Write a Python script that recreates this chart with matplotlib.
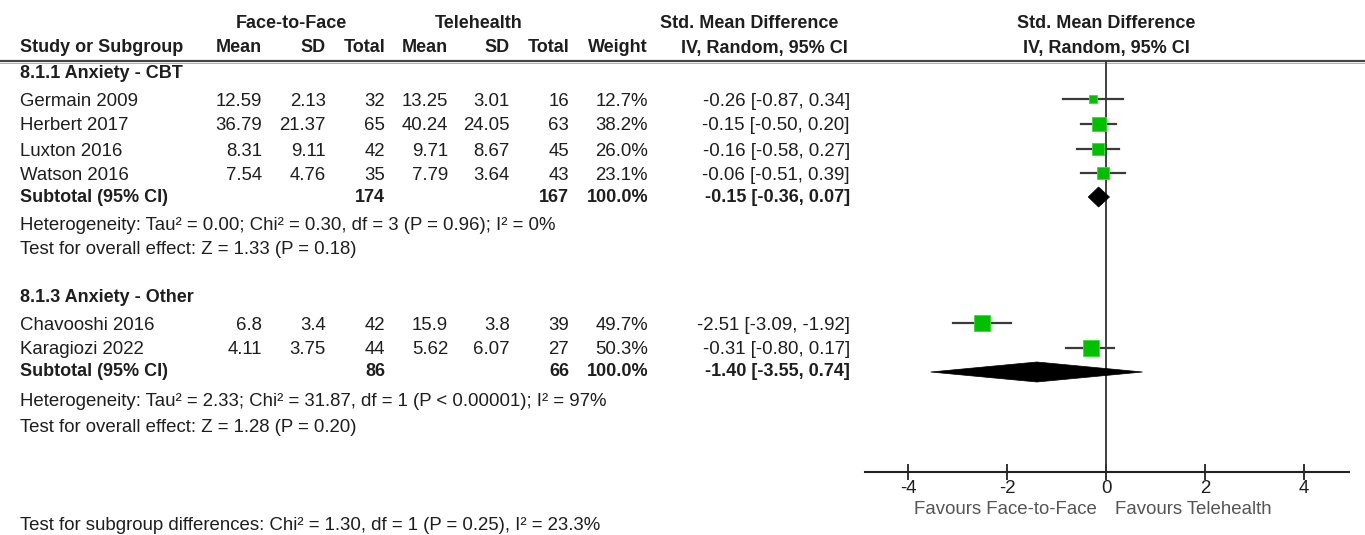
import numpy as np
import matplotlib
matplotlib.use("Agg")
import matplotlib.pyplot as plt
from matplotlib.patches import Polygon

plt.rcParams['font.family'] = ['Liberation Sans', 'DejaVu Sans']

# study level data
groups = ["8.1.1 Anxiety - CBT", "8.1.3 Anxiety - Other"]
studies = [["Germain 2009", "Herbert 2017", "Luxton 2016", "Watson 2016"],
           ["Chavooshi 2016", "Karagiozi 2022"]]
f2f_mean = [[12.59, 36.79, 8.31, 7.54], [6.8, 4.11]]
f2f_sd = [[2.13, 21.37, 9.11, 4.76], [3.4, 3.75]]
f2f_n = [[32, 65, 42, 35], [42, 44]]
th_mean = [[13.25, 40.24, 9.71, 7.79], [15.9, 5.62]]
th_sd = [[3.01, 24.05, 8.67, 3.64], [3.8, 6.07]]
th_n = [[16, 63, 45, 43], [39, 27]]
weight = [[12.7, 38.2, 26.0, 23.1], [49.7, 50.3]]
smd = [[-0.26, -0.15, -0.16, -0.06], [-2.51, -0.31]]
ci_lo = [[-0.87, -0.50, -0.58, -0.51], [-3.09, -0.80]]
ci_hi = [[0.34, 0.20, 0.27, 0.39], [-1.92, 0.17]]

# subgroup pooled results
sub_f2f_n = [174, 86]
sub_th_n = [167, 66]
sub_smd = [-0.15, -1.40]
sub_lo = [-0.36, -3.55]
sub_hi = [0.07, 0.74]
heterogeneity = ["Heterogeneity: Tau\u00b2 = 0.00; Chi\u00b2 = 0.30, df = 3 (P = 0.96); I\u00b2 = 0%",
                 "Heterogeneity: Tau\u00b2 = 2.33; Chi\u00b2 = 31.87, df = 1 (P < 0.00001); I\u00b2 = 97%"]
overall_effect = ["Test for overall effect: Z = 1.33 (P = 0.18)",
                  "Test for overall effect: Z = 1.28 (P = 0.20)"]
subgroup_test = "Test for subgroup differences: Chi\u00b2 = 1.30, df = 1 (P = 0.25), I\u00b2 = 23.3%"
x_ticks = [-4, -2, 0, 2, 4]

# row positions (pixels from top)
group_y = [74, 298]
study_y = [[101, 126, 151, 175], [325, 350]]
sub_y = [197, 372]
het_y = [226, 402]
oe_y = [250, 427]

W, H = 1365, 535
fig = plt.figure(figsize=(W / 100, H / 100), dpi=100)
tx = fig.add_axes([0, 0, 1, 1])
tx.set_xlim(0, W)
tx.set_ylim(H, 0)
tx.axis('off')

TC = '#1e1e1e'
FS = 13.4
FSB = 13
col_right = [262, 326, 385, 448, 510, 569, 648]
ci_right = 850


def txt(x, y, s, ha='left', bold=False, color=TC):
    tx.text(x, y, s, ha=ha, va='center', fontsize=FSB if bold else FS, color=color,
            fontweight='bold' if bold else 'normal')


# header
txt(291, 23, "Face-to-Face", ha='center', bold=True)
txt(479, 23, "Telehealth", ha='center', bold=True)
txt(749, 23, "Std. Mean Difference", ha='center', bold=True)
txt(1106, 23, "Std. Mean Difference", ha='center', bold=True)
txt(20, 48, "Study or Subgroup", bold=True)
for x, s in zip(col_right, ["Mean", "SD", "Total", "Mean", "SD", "Total", "Weight"]):
    txt(x, 48, s, ha='right', bold=True)
txt(848, 48, "IV, Random, 95% CI", ha='right', bold=True)
txt(1106, 48, "IV, Random, 95% CI", ha='center', bold=True)
tx.plot([0, W], [60.5, 60.5], color='#444444', lw=1.6)
tx.plot([0, W], [62.5, 62.5], color='#b0b0b0', lw=0.7)

for g in range(len(groups)):
    txt(20, group_y[g], groups[g], bold=True)
    for i, name in enumerate(studies[g]):
        y = study_y[g][i]
        vals = [f2f_mean[g][i], f2f_sd[g][i], f2f_n[g][i], th_mean[g][i],
                th_sd[g][i], th_n[g][i], "%.1f%%" % weight[g][i]]
        txt(20, y, name)
        for x, v in zip(col_right, vals):
            txt(x, y, str(v), ha='right')
        txt(ci_right, y, "%.2f [%.2f, %.2f]" % (smd[g][i], ci_lo[g][i], ci_hi[g][i]), ha='right')
    y = sub_y[g]
    txt(20, y, "Subtotal (95% CI)", bold=True)
    txt(col_right[2], y, str(sub_f2f_n[g]), ha='right', bold=True)
    txt(col_right[5], y, str(sub_th_n[g]), ha='right', bold=True)
    txt(col_right[6], y, "100.0%", ha='right', bold=True)
    txt(ci_right, y, "%.2f [%.2f, %.2f]" % (sub_smd[g], sub_lo[g], sub_hi[g]), ha='right', bold=True)
    txt(20, het_y[g], heterogeneity[g])
    txt(20, oe_y[g], overall_effect[g])

txt(20, 525, subgroup_test)

# forest plot panel, x in SMD units, y in pixel rows
x0, x1, y_top, y_bot = 865, 1349, 61, 472
px_per_unit = 49.4
zero_px = 1106
fx = fig.add_axes([x0 / W, 1 - y_bot / H, (x1 - x0) / W, (y_bot - y_top) / H])
fx.set_xlim((x0 - zero_px) / px_per_unit, (x1 - zero_px) / px_per_unit)
fx.set_ylim(y_bot, y_top)
fx.patch.set_alpha(0)
for sp in ['top', 'right', 'left']:
    fx.spines[sp].set_visible(False)
fx.spines['bottom'].set_linewidth(1.5)
fx.spines['bottom'].set_color('#222222')
fx.set_yticks([])
fx.set_xticks(x_ticks)
fx.set_xticklabels([str(t) for t in x_ticks])
fx.tick_params(axis='x', direction='inout', length=11, width=1.3, color='#222222',
               labelsize=FS, labelcolor=TC, pad=0)
fx.axvline(0, color='#333333', lw=1.3)

for g in range(len(groups)):
    for i in range(len(studies[g])):
        y = study_y[g][i] - 2.5
        fx.plot([ci_lo[g][i], ci_hi[g][i]], [y, y], color='#3a3a3a', lw=1.6, zorder=3)
        side = 2.3 * np.sqrt(weight[g][i]) * 0.72
        fx.scatter([smd[g][i]], [y], marker='s', s=side ** 2, color='#00c000',
                   edgecolors='#33e033', linewidths=0.6, zorder=4)
    y = sub_y[g]
    dia = Polygon([[sub_lo[g], y], [sub_smd[g], y - 10], [sub_hi[g], y], [sub_smd[g], y + 10]],
                  closed=True, facecolor='black', edgecolor='black', lw=0.5, zorder=4)
    fx.add_patch(dia)

txt(1097, 510, "Favours Face-to-Face", ha='right', color='#555555')
txt(1115, 510, "Favours Telehealth", ha='left', color='#555555')

fig.savefig("out.png", dpi=100)
